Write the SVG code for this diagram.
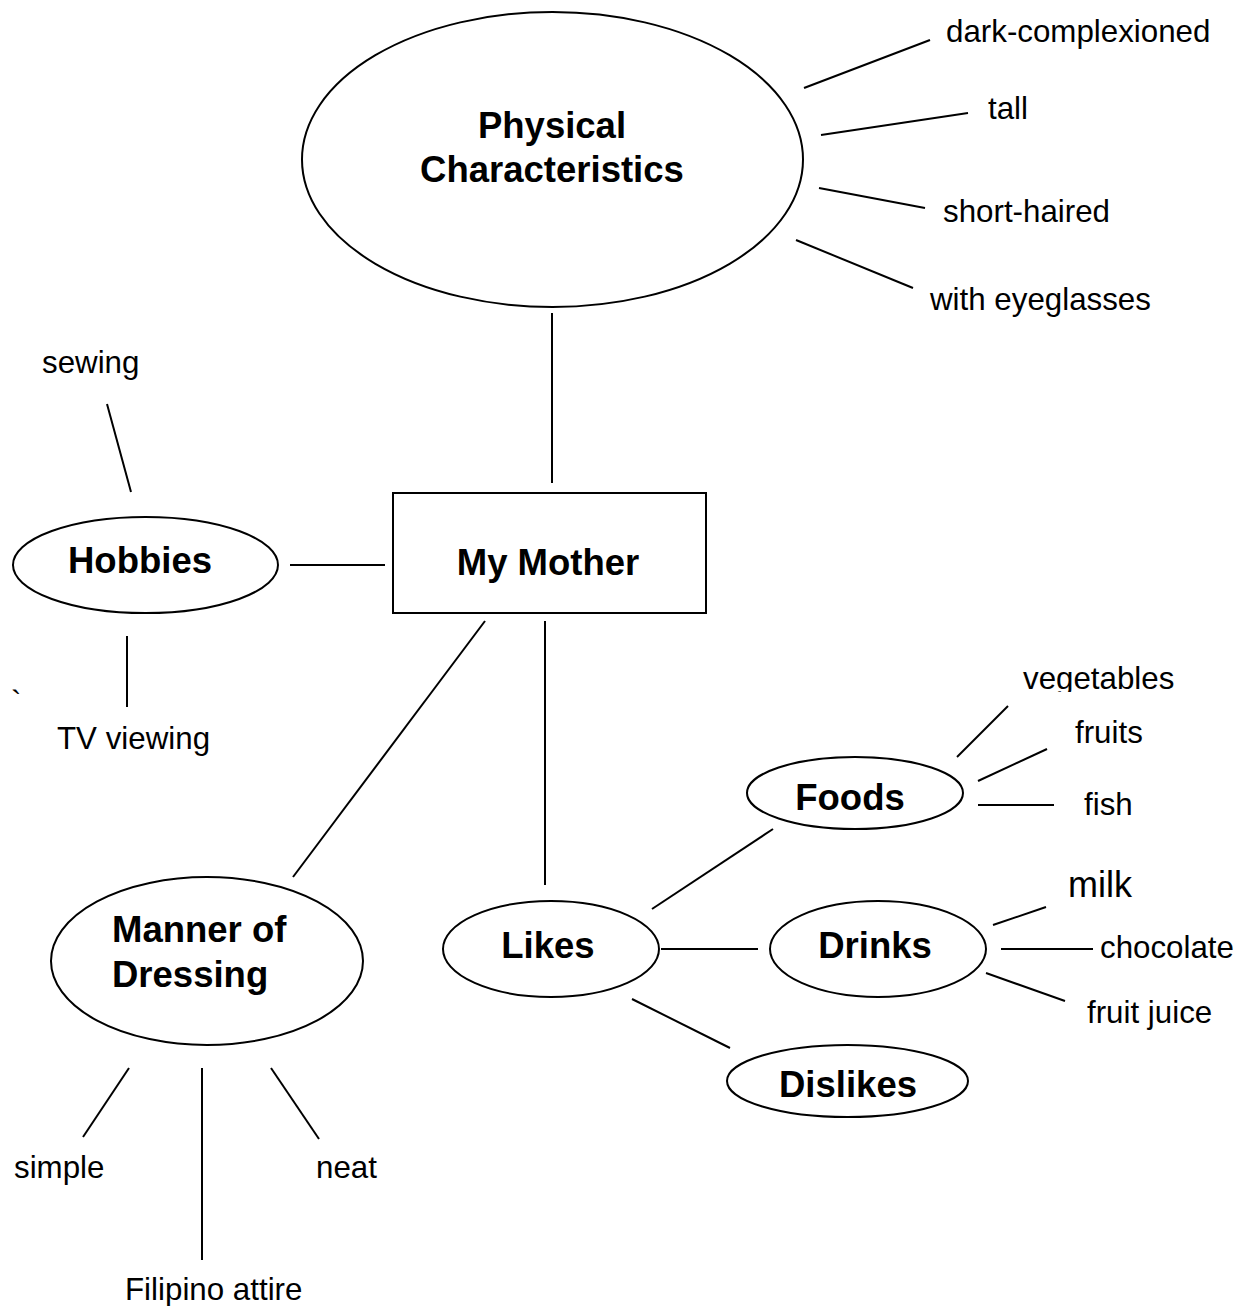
<svg xmlns="http://www.w3.org/2000/svg" width="1239" height="1306" viewBox="0 0 1239 1306">
<style>
.shape{fill:#fff;stroke:#000;stroke-width:2}
.ln{stroke:#000;stroke-width:2;fill:none}
.b{font-family:"Liberation Sans",Arial,sans-serif;font-weight:bold;font-size:36.5px;fill:#000;text-anchor:middle}
.r{font-family:"Liberation Sans",Arial,sans-serif;font-size:31.3px;fill:#000}
</style>
<defs>
<clipPath id="clipVeg"><rect x="1000" y="660" width="239" height="32"/></clipPath>
<clipPath id="clipJuice"><rect x="1070" y="990" width="169" height="41"/></clipPath>
</defs>
<rect width="1239" height="1306" fill="#fff"/>
<g id="connectors">
<line class="ln" x1="552" y1="313" x2="552" y2="483"/>
<line class="ln" x1="290" y1="565" x2="385" y2="565"/>
<line class="ln" x1="485" y1="621" x2="293" y2="877"/>
<line class="ln" x1="545" y1="621" x2="545" y2="885"/>
<line class="ln" x1="804" y1="88" x2="930" y2="40"/>
<line class="ln" x1="821" y1="135" x2="968" y2="113"/>
<line class="ln" x1="819" y1="188" x2="925" y2="208"/>
<line class="ln" x1="796" y1="240" x2="913" y2="288"/>
<line class="ln" x1="107" y1="404" x2="131" y2="492"/>
<line class="ln" x1="127" y1="636" x2="127" y2="707"/>
<line class="ln" x1="129" y1="1068" x2="83" y2="1137"/>
<line class="ln" x1="202" y1="1068" x2="202" y2="1260"/>
<line class="ln" x1="271" y1="1068" x2="319" y2="1139"/>
<line class="ln" x1="652" y1="909" x2="773" y2="829"/>
<line class="ln" x1="661" y1="949" x2="758" y2="949"/>
<line class="ln" x1="632" y1="999" x2="730" y2="1048"/>
<line class="ln" x1="957" y1="757" x2="1008" y2="706"/>
<line class="ln" x1="978" y1="781" x2="1047" y2="749"/>
<line class="ln" x1="978" y1="805" x2="1054" y2="805"/>
<line class="ln" x1="993" y1="925" x2="1046" y2="907"/>
<line class="ln" x1="1001" y1="949" x2="1093" y2="949"/>
<line class="ln" x1="986" y1="973" x2="1065" y2="1001"/>
</g>
<g id="physical">
<ellipse class="shape" cx="552.5" cy="159.5" rx="250.5" ry="147.5"/>
<text class="b" x="552" y="138">Physical</text>
<text class="b" x="552" y="182">Characteristics</text>
</g>
<g id="mother">
<rect class="shape" x="393" y="493" width="313" height="120"/>
<text class="b" x="548" y="575">My Mother</text>
</g>
<g id="hobbies">
<ellipse class="shape" cx="145.5" cy="565" rx="132.5" ry="48"/>
<text class="b" x="140" y="573">Hobbies</text>
</g>
<g id="manner">
<ellipse class="shape" cx="207" cy="961" rx="156" ry="84"/>
<text class="b" x="112" y="942" style="text-anchor:start">Manner of</text>
<text class="b" x="112" y="987" style="text-anchor:start">Dressing</text>
</g>
<g id="likes">
<ellipse class="shape" cx="551" cy="949" rx="108" ry="48"/>
<text class="b" x="548" y="958">Likes</text>
</g>
<g id="foods">
<ellipse class="shape" cx="855" cy="793" rx="108" ry="36"/>
<text class="b" x="850" y="810">Foods</text>
</g>
<g id="drinks">
<ellipse class="shape" cx="878" cy="949" rx="108" ry="48"/>
<text class="b" x="875" y="958">Drinks</text>
</g>
<g id="dislikes">
<ellipse class="shape" cx="847.5" cy="1081" rx="120.5" ry="36"/>
<text class="b" x="848" y="1097">Dislikes</text>
</g>
<g id="leaves">
<text class="r" x="946" y="42">dark-complexioned</text>
<text class="r" x="988" y="119">tall</text>
<text class="r" x="943" y="222">short-haired</text>
<text class="r" x="930" y="310">with eyeglasses</text>
<text class="r" x="42" y="373">sewing</text>
<text class="r" x="11" y="713">`</text>
<text class="r" x="57" y="749">TV viewing</text>
<text class="r" x="14" y="1178">simple</text>
<text class="r" x="316" y="1178">neat</text>
<text class="r" x="125" y="1300">Filipino attire</text>
<text class="r" x="1023" y="689" clip-path="url(#clipVeg)">vegetables</text>
<text class="r" x="1075" y="743">fruits</text>
<text class="r" x="1084" y="815">fish</text>
<text class="r" x="1068" y="897" style="font-size:36px">milk</text>
<text class="r" x="1100" y="958">chocolate</text>
<text class="r" x="1087" y="1023" clip-path="url(#clipJuice)">fruit juice</text>
</g>
</svg>
